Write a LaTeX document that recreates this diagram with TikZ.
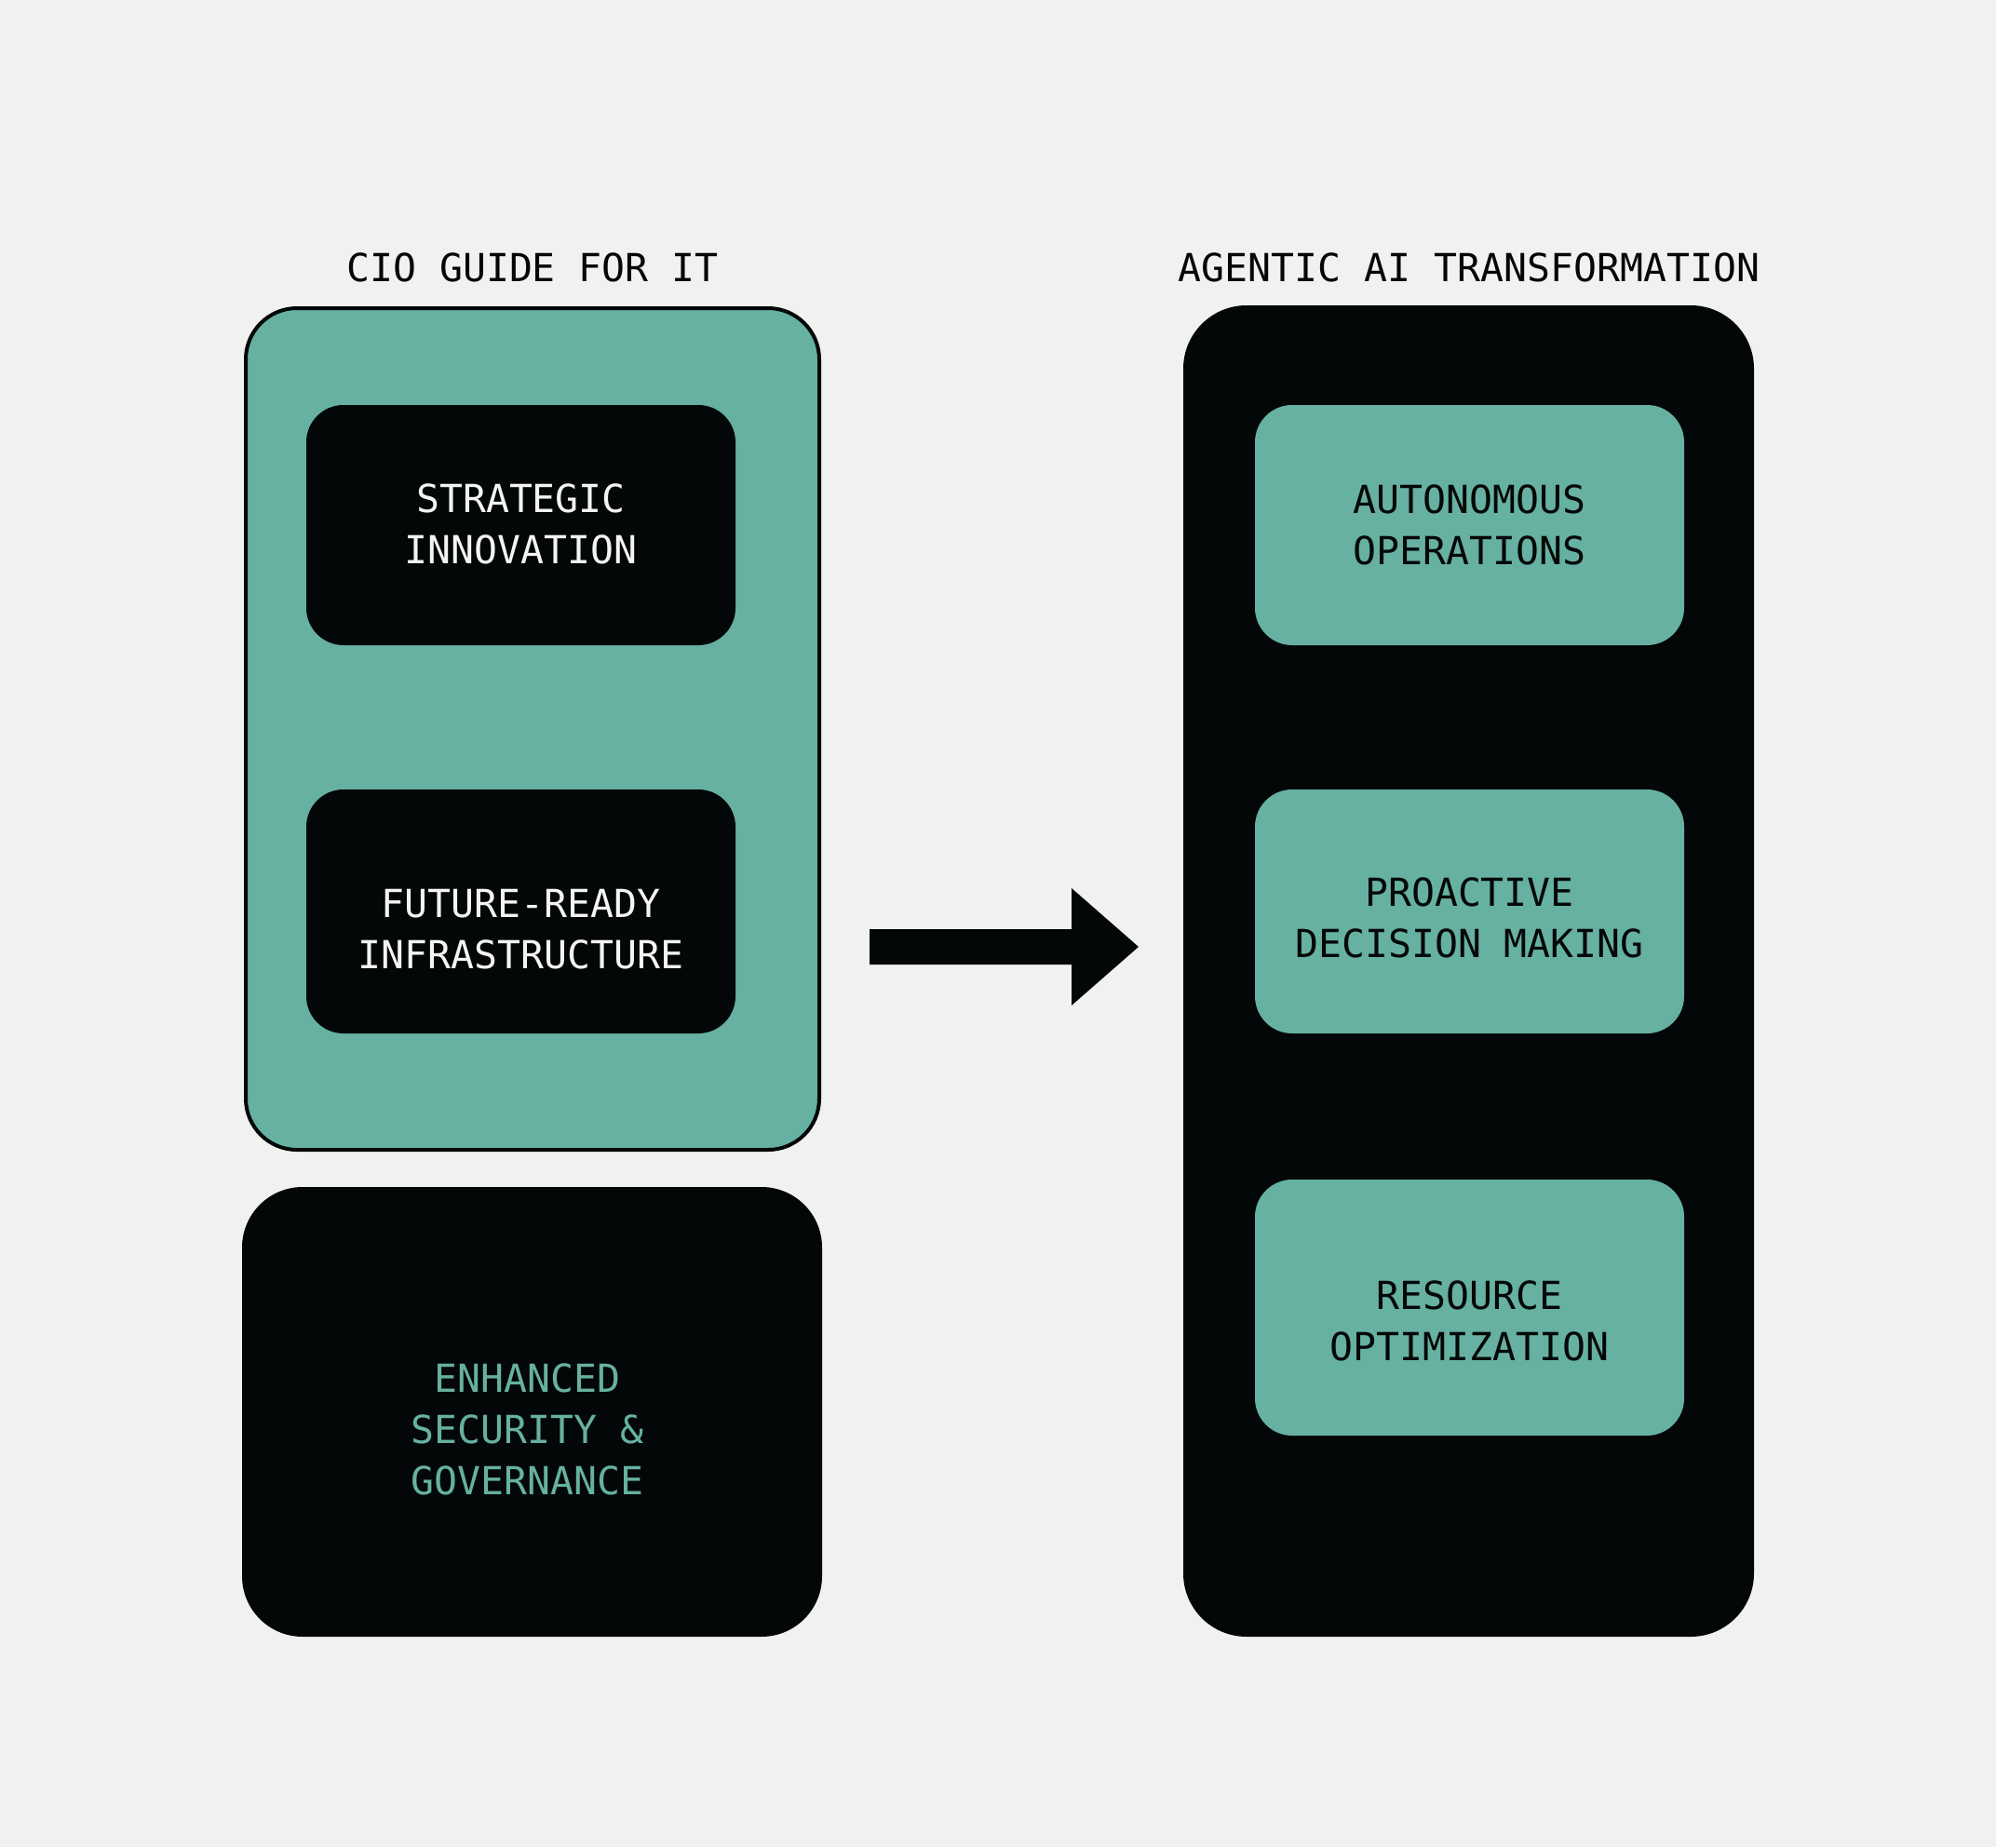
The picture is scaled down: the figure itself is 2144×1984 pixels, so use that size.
\documentclass[tikz,border=0pt]{standalone}
\usepackage{fontspec}
\setmonofont{DejaVu Sans Mono}
\usetikzlibrary{calc}
\definecolor{bg}{HTML}{F1F1F0}
\definecolor{tealc}{HTML}{66B1A1}
\definecolor{ink}{HTML}{040707}
\definecolor{paper}{HTML}{F4F4F2}
\begin{document}
\begin{tikzpicture}[x=1pt,y=-1pt,
  txt/.style={font=\ttfamily\fontsize{41.5}{55}\selectfont, align=center},
  title/.style={txt, text=ink},
  tealpanel/.style={draw=ink, line width=4pt, fill=tealc, rounded corners=55pt},
  darkpanel/.style={fill=ink, rounded corners=68pt},
  darkcard/.style={fill=ink, rounded corners=40pt, minimum width=461pt},
  tealcard/.style={fill=tealc, rounded corners=40pt, minimum width=461pt},
  lighttxt/.style={txt, text=paper},
  darktxt/.style={txt, text=ink},
  greentxt/.style={txt, text=tealc},
  blockarrow/.style={fill=ink}
]
\fill[bg] (0,0) rectangle (2144,1984);
\useasboundingbox (0,0) rectangle (2144,1984);

% titles
\node[title] (t1) at (572,287) {CIO GUIDE FOR IT};
\node[title] (t2) at (1578,287) {AGENTIC AI TRANSFORMATION};

% left column
\node[tealpanel, minimum width=616pt, minimum height=904pt] (left) at (572,783) {};
\node[darkcard, minimum height=258pt] (s1) at (559.5,564) {};
\node[lighttxt] (s1t) at ($(s1)+(0,-1)$) {STRATEGIC\\INNOVATION};
\node[darkcard, minimum height=262pt] (s2) at (559.5,979) {};
\node[lighttxt] (s2t) at ($(s2)+(0,19)$) {FUTURE-READY\\INFRASTRUCTURE};
\node[fill=ink, rounded corners=65pt, minimum width=623pt, minimum height=483pt] (enh) at (571.5,1516.5) {};
\node[greentxt] (enht) at ($(enh)+(-5,19)$) {ENHANCED\\SECURITY \&\\GOVERNANCE};

% right column
\node[darkpanel, minimum width=613pt, minimum height=1430pt] (right) at (1577.5,1043) {};
\node[tealcard, minimum height=258pt] (a1) at (1578.5,564) {};
\node[darktxt] (a1t) at ($(a1)+(0,0)$) {AUTONOMOUS\\OPERATIONS};
\node[tealcard, minimum height=262pt] (a2) at (1578.5,979) {};
\node[darktxt] (a2t) at ($(a2)+(0,7)$) {PROACTIVE\\DECISION MAKING};
\node[tealcard, minimum height=275pt] (a3) at (1578.5,1404.5) {};
\node[darktxt] (a3t) at ($(a3)+(0,14)$) {RESOURCE\\OPTIMIZATION};

% block arrow
\coordinate (as) at (934,1017);
\coordinate (ae) at (1223,1017);
\fill[blockarrow] ($(as)+(0,-19)$) -- ($(ae)+(-72,-19)$) -- ($(ae)+(-72,-63)$) -- (ae)
  -- ($(ae)+(-72,63)$) -- ($(ae)+(-72,19)$) -- ($(as)+(0,19)$) -- cycle;
\end{tikzpicture}
\end{document}
